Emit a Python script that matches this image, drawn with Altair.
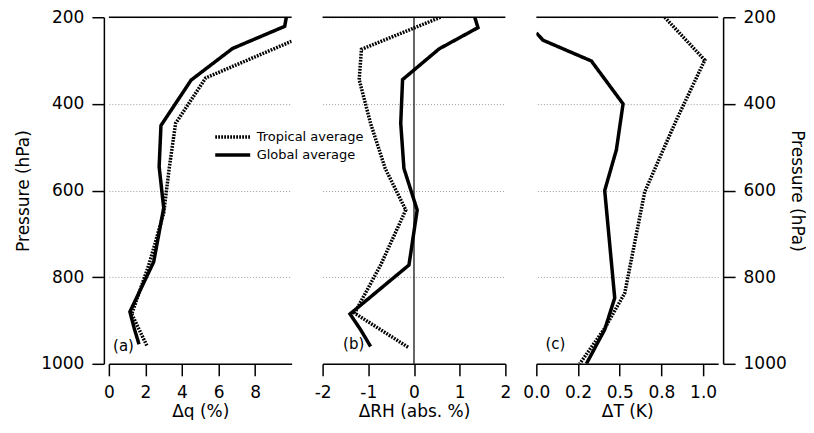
import altair as alt
import pandas as pd

FONT = "DejaVu Sans"
SERIES = ["Tropical average", "Global average"]

# Pressure tick values (hPa)
P_TICKS = [200, 400, 600, 800, 1000]

# Panel (a): specific humidity change (%)
Q_TROP_P = [250, 340, 445, 549, 652, 770, 885, 960]
Q_TROP = [10.3, 5.3, 3.65, 3.3, 3.0, 2.2, 1.25, 2.1]
Q_GLOB_P = [200, 221, 272, 345, 450, 545, 640, 765, 880, 920, 955]
Q_GLOB = [9.71, 9.62, 6.77, 4.5, 2.85, 2.75, 3.0, 2.45, 1.15, 1.4, 1.65]
Q_TICKS = [0, 2, 4, 6, 8]

# Panel (b): relative humidity change (abs. %)
RH_TROP_P = [200, 274, 344, 445, 549, 645, 772, 883, 963]
RH_TROP = [0.58, -1.15, -1.2, -0.95, -0.63, -0.18, -0.73, -1.30, -0.11]
RH_GLOB_P = [200, 224, 273, 344, 445, 549, 645, 772, 885, 921, 960]
RH_GLOB = [1.33, 1.40, 0.55, -0.25, -0.29, -0.22, 0.07, -0.11, -1.40, -1.17, -0.95]
RH_TICKS = [-2, -1, 0, 1, 2]

# Panel (c): temperature change (K)
T_TROP_P = [200, 299, 437, 603, 837, 918, 1000]
T_TROP = [0.77, 1.01, 0.84, 0.65, 0.53, 0.41, 0.26]
T_GLOB_P = [236, 253, 301, 400, 506, 600, 848, 921, 1000]
T_GLOB = [0.0, 0.04, 0.33, 0.52, 0.48, 0.41, 0.47, 0.41, 0.30]
T_TICKS = [0.0, 0.25, 0.5, 0.75, 1.0]
T_TICK_LABELS = ["0.0", "0.2", "0.5", "0.8", "1.0"]

PANEL_LABELS = ["(a)", "(b)", "(c)"]


def panel_df(tp, tv, gp, gv):
    rows = []
    for p, v in zip(tp, tv):
        rows.append({"p": p, "v": v, "series": SERIES[0]})
    for p, v in zip(gp, gv):
        rows.append({"p": p, "v": v, "series": SERIES[1]})
    return pd.DataFrame(rows)


W, H = 183, 347
y_scale = alt.Scale(domain=[P_TICKS[0], P_TICKS[-1]], reverse=True, nice=False, zero=False)
dash = alt.Scale(domain=SERIES, range=[[1.8, 1.2], [1, 0]])
one_row = alt.Data(values=[{"k": 0}])


def make_panel(df, xdom, xticks, xtitle, yaxis, label, label_xy, legend=None,
               zero_rule=False, label_expr="datum.value + ''", width=W):
    xaxis_kw = dict(values=xticks, title=xtitle, grid=False, tickSize=12,
                    labelPadding=9, titlePadding=3, labelExpr=label_expr)
    line = alt.Chart(df).mark_line(clip=True, color="black", strokeWidth=3.5).encode(
        x=alt.X("v:Q", scale=alt.Scale(domain=xdom, nice=False, zero=False),
                axis=alt.Axis(**xaxis_kw)),
        y=alt.Y("p:Q", scale=y_scale, axis=yaxis),
        strokeDash=alt.StrokeDash("series:N", scale=dash, legend=legend),
        order=alt.Order("p:Q"),
    )
    top = alt.Chart(one_row).mark_rule(color="black", strokeWidth=1.5).encode(
        y=alt.datum(P_TICKS[0])
    )
    layers = [top]
    if zero_rule:
        layers.append(alt.Chart(one_row).mark_rule(color="black", strokeWidth=1.2).encode(
            x=alt.datum(0)
        ))
    layers.append(line)
    layers.append(alt.Chart(one_row).mark_text(
        text=label, font=FONT, fontSize=15, color="black"
    ).encode(x=alt.datum(label_xy[0]), y=alt.datum(label_xy[1])))
    return alt.layer(*layers).properties(width=width, height=H)


grid_kw = dict(grid=True, gridDash=[1, 2], gridColor="#9a9a9a", gridWidth=1, values=P_TICKS)

yaxis_left = alt.Axis(orient="left", title="Pressure (hPa)", offset=5, tickSize=12,
                      labelPadding=8, titlePadding=8, format="d", **grid_kw)
yaxis_mid = alt.Axis(labels=False, ticks=False, domain=False, title=None, **grid_kw)
yaxis_right = alt.Axis(orient="right", title="Pressure (hPa)", offset=5, tickSize=12,
                       labelPadding=8, titlePadding=1, format="d", **grid_kw)

half = 17.5 / 9
legend = alt.Legend(orient="none", legendX=113, legendY=109, title=None,
                    symbolType=f"M-{half:.3f},0H{half:.3f}", symbolSize=324,
                    symbolStrokeWidth=3.5, symbolFillColor="transparent",
                    symbolStrokeColor="black", labelFont=FONT, labelFontSize=13,
                    labelColor="black", labelOffset=13, rowPadding=0, padding=0)

t_expr = " : ".join(
    f"datum.value == {v} ? '{s}'" for v, s in zip(T_TICKS, T_TICK_LABELS)
) + " : ''"

pa = make_panel(panel_df(Q_TROP_P, Q_TROP, Q_GLOB_P, Q_GLOB), [0, 10], Q_TICKS,
                "Δq (%)", yaxis_left, PANEL_LABELS[0], (0.8, 960), legend=legend)
pb = make_panel(panel_df(RH_TROP_P, RH_TROP, RH_GLOB_P, RH_GLOB), [-2, 2], RH_TICKS,
                "ΔRH (abs. %)", yaxis_mid, PANEL_LABELS[1], (-1.32, 954), zero_rule=True)
pc = make_panel(panel_df(T_TROP_P, T_TROP, T_GLOB_P, T_GLOB), [0, 1.09], T_TICKS,
                "ΔT (K)", yaxis_right, PANEL_LABELS[2], (0.114, 955),
                label_expr=t_expr, width=182)

chart = alt.hconcat(pa, pb, pc, spacing=31, bounds="flush").properties(
    padding={"left": 6, "top": 0, "right": 0, "bottom": 0}
).configure_view(stroke=None).configure_axis(
    labelFont=FONT, labelFontSize=17, labelColor="black", labelFlush=False,
    titleFont=FONT, titleFontSize=17, titleFontWeight="normal", titleColor="black",
    domainColor="black", domainWidth=1.5, tickColor="black", tickWidth=1.5,
)

chart.save("out.html", embed_options={"renderer": "svg", "actions": False})
